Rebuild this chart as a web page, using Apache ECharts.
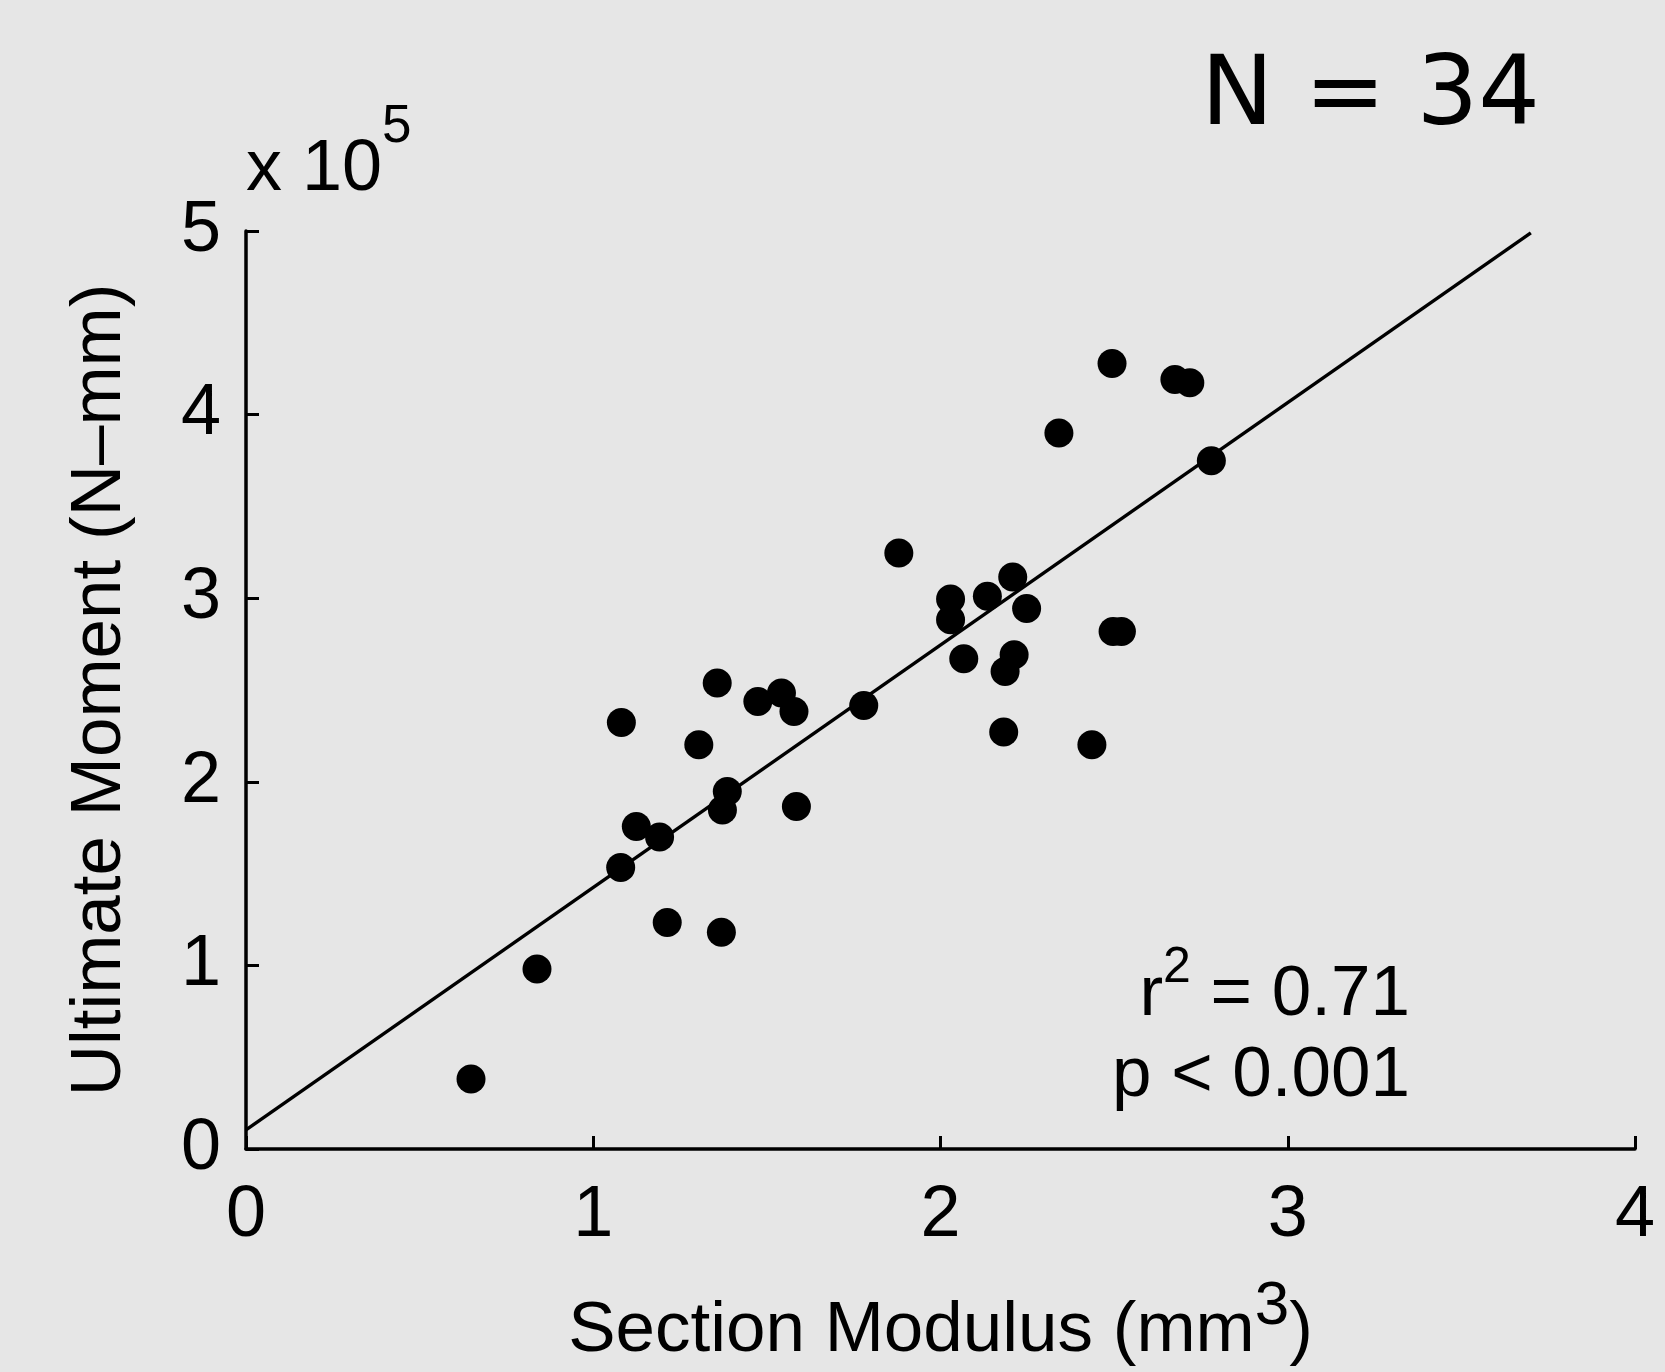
<!DOCTYPE html>
<html>
<head>
<meta charset="utf-8">
<style>
html,body{margin:0;padding:0;background:#e6e6e6;}
#chart{width:1665px;height:1372px;}
</style>
<script src="https://cdn.jsdelivr.net/npm/echarts@6/dist/echarts.min.js"></script>
</head>
<body>
<div id="chart"></div>
<script>
// Section modulus (mm^3)
const sectionModulus = [0.648, 0.838, 1.081, 1.079, 1.124, 1.191, 1.213, 1.304, 1.357, 1.372,
  1.386, 1.369, 1.474, 1.542, 1.578, 1.585, 1.779, 1.880, 2.029, 2.029,
  2.067, 2.135, 2.208, 2.248, 2.212, 2.186, 2.182, 2.341, 2.436, 2.494,
  2.497, 2.521, 2.675, 2.718, 2.780];
// Ultimate moment (x 10^5 N-mm)
const ultimateMoment = [0.381, 0.981, 2.323, 1.533, 1.756, 1.699, 1.233, 2.202, 2.538, 1.847,
  1.947, 1.181, 2.438, 2.483, 2.383, 1.865, 2.416, 3.246, 2.996, 2.883,
  2.670, 3.010, 3.116, 2.944, 2.692, 2.601, 2.271, 3.900, 2.202, 4.278,
  2.819, 2.819, 4.191, 4.173, 3.749];
// Regression line end points
const fitX = [0, 3.70];
const fitY = [0.104, 4.99];
const xTicks = [0, 1, 2, 3, 4];
const yTicks = [0, 1, 2, 3, 4, 5];

const points = sectionModulus.map((x, i) => [x, ultimateMoment[i]]);
const fitLine = fitX.map((x, i) => [x, fitY[i]]);

const FONT = '"Liberation Sans", Arial, sans-serif';
const chart = echarts.init(document.getElementById('chart'), null, {renderer: 'canvas'});

chart.setOption({
  backgroundColor: '#e6e6e6',
  animation: false,
  grid: {left: 246, right: 30, top: 231, bottom: 223, containLabel: false, outerBoundsMode: 'none'},
  xAxis: {
    type: 'value', min: xTicks[0], max: xTicks[xTicks.length - 1], interval: 1,
    name: 'Section Modulus (mm{s|3})',
    nameLocation: 'middle', nameGap: 127,
    nameMoveOverlap: false,
    nameTextStyle: {
      color: '#000', fontFamily: FONT, fontSize: 71, lineHeight: 110,
      rich: {
        s: {fontSize: 62, lineHeight: 62, verticalAlign: 'top', fontFamily: FONT, color: '#000'}
      }
    },
    axisLine: {show: true, onZero: false, lineStyle: {color: '#000', width: 3.5}},
    axisTick: {show: true, inside: true, length: 13, lineStyle: {color: '#000', width: 3}},
    axisLabel: {color: '#000', fontFamily: FONT, fontSize: 72, margin: 31},
    splitLine: {show: false}
  },
  yAxis: {
    type: 'value', min: yTicks[0], max: yTicks[yTicks.length - 1], interval: 1,
    name: 'Ultimate Moment (N\u2013mm)',
    nameLocation: 'middle', nameGap: 110,
    nameMoveOverlap: false,
    nameTextStyle: {color: '#000', fontFamily: FONT, fontSize: 71},
    axisLine: {show: true, onZero: false, lineStyle: {color: '#000', width: 3.5}},
    axisTick: {show: true, inside: true, length: 13, lineStyle: {color: '#000', width: 3}},
    axisLabel: {color: '#000', fontFamily: FONT, fontSize: 72, margin: 25},
    splitLine: {show: false}
  },
  series: [
    {
      type: 'line', data: fitLine, symbol: 'none', silent: true, z: 1,
      lineStyle: {color: '#000', width: 3.4}
    },
    {
      type: 'scatter', data: points, symbol: 'circle', symbolSize: 29, z: 2,
      itemStyle: {color: '#000', opacity: 1}
    }
  ],
  graphic: [
    {
      type: 'text', x: 1201, y: 99,
      style: {text: 'N = 34', fontFamily: '"DejaVu Sans", Verdana, sans-serif', fontSize: 97,
        fill: '#000', verticalAlign: 'middle', align: 'left'}
    },
    {
      type: 'text', x: 246, y: 101,
      style: {
        text: '{m|x 10}{s|5}', verticalAlign: 'top', align: 'left',
        rich: {
          m: {fontFamily: FONT, fontSize: 72, lineHeight: 138, fill: '#000'},
          s: {fontFamily: FONT, fontSize: 53, lineHeight: 53, verticalAlign: 'top', fill: '#000'}
        }
      }
    },
    {
      type: 'text', x: 1410, y: 943,
      style: {
        text: '{m|r}{s|2}{m| = 0.71}', verticalAlign: 'top', align: 'right',
        rich: {
          m: {fontFamily: FONT, fontSize: 71, lineHeight: 104, fill: '#000'},
          s: {fontFamily: FONT, fontSize: 50, lineHeight: 50, verticalAlign: 'top', fill: '#000'}
        }
      }
    },
    {
      type: 'text', x: 1410, y: 1076,
      style: {text: 'p < 0.001', fontFamily: FONT, fontSize: 71, fill: '#000',
        verticalAlign: 'middle', align: 'right'}
    }
  ]
});
</script>
</body>
</html>
